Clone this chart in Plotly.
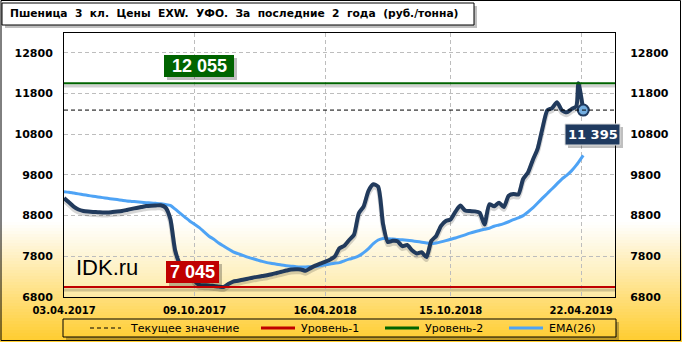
import pandas as pd
import plotly.graph_objects as go

# ---------------- data ----------------
weekly_dates = list(pd.date_range("2017-04-03", periods=107, freq="7D").strftime("%Y-%m-%d"))
extra_dates = ["2019-04-18", "2019-04-25"]
dates = weekly_dates + extra_dates

price = [9230, 9130, 9020, 8950, 8915, 8900, 8890, 8885, 8878, 8876,
         8888, 8900, 8915, 8940, 8966, 8990, 9012, 9035, 9045, 9050,
         9055, 9000, 8720, 7940, 7625, 7560, 7420, 7200, 7100, 7090,
         7085, 7070, 7055, 7045, 7120, 7180, 7200, 7225, 7250, 7275,
         7295, 7315, 7335, 7360, 7390, 7420, 7450, 7475, 7480, 7478,
         7445, 7510, 7570, 7620, 7665, 7715, 7790, 8000, 8060, 8200,
         8330, 8860, 9030, 9410, 9570, 9510, 8600, 8150, 8180, 8170,
         8050, 8080, 7950, 7870, 7900, 7780, 8180, 8300, 8550, 8670,
         8710, 8900, 9050, 8925, 8912, 8905, 8870, 8580, 9080, 9030,
         9120, 9013, 9290, 9330, 9320, 9700, 9860, 10170, 10450, 10950,
         11390, 11445, 11590, 11390, 11340, 11420, 11490, 12055, 11395]

ema26 = [9390, 9375, 9355, 9335, 9315, 9295, 9277, 9260, 9243, 9226,
         9210, 9195, 9178, 9161, 9150, 9140, 9130, 9120, 9110, 9103,
         9095, 9075, 9050, 8960, 8860, 8765, 8670, 8590, 8505, 8400,
         8295, 8220, 8125, 8053, 7982, 7910, 7865, 7825, 7780, 7745,
         7710, 7675, 7645, 7625, 7605, 7585, 7570, 7558, 7545, 7538,
         7540, 7545, 7552, 7570, 7590, 7610, 7630, 7645, 7690, 7730,
         7760, 7810, 7890, 7990, 8110, 8200, 8240, 8235, 8228, 8215,
         8205, 8194, 8180, 8165, 8148, 8128, 8115, 8130, 8155, 8185,
         8218, 8250, 8290, 8328, 8370, 8405, 8435, 8465, 8490, 8540,
         8570, 8605, 8650, 8700, 8745, 8800, 8890, 8990, 9110, 9230,
         9345, 9460, 9580, 9700, 9790, 9900, 10040, 10110, 10280]

level1 = 7045
level2 = 12055
current = 11395

x_tick_dates = ["2017-04-03", "2017-10-09", "2018-04-16", "2018-10-15", "2019-04-22"]
x_tick_text = ["03.04.2017", "09.10.2017", "16.04.2018", "15.10.2018", "22.04.2019"]
y_ticks = [6800, 7800, 8800, 9800, 10800, 11800, 12800]

title_words = ["Пшеница", "3", "кл.", "Цены", "EXW.", "УФО.", "За", "последние", "2", "года", "(руб./тонна)"]
legend_names = ["Текущее значение", "Уровень-1", "Уровень-2", "EMA(26)"]

# ---------------- geometry helpers (pixels -> paper) ----------------
W, H = 682, 342
PL, PR, PT, PB = 64, 615, 33, 297


def fx(px):
    return (px - PL) / (PR - PL)


def fy(py):
    return (PB - py) / (PB - PT)


def mix(c1, c2, t):
    t = max(0.0, min(1.0, t))
    return "rgb(%d,%d,%d)" % tuple(round(a + (b - a) * t) for a, b in zip(c1, c2))


def rect(x0, x1, y0, y1, fill, line=None, layer="above"):
    d = dict(type="rect", xref="paper", yref="paper", layer=layer,
             x0=fx(x0), x1=fx(x1), y0=fy(y1), y1=fy(y0), fillcolor=fill)
    if line is None:
        d["line_width"] = 0
    else:
        d["line"] = line
    return d


def shadow(x0, x1, y0, y1, off=3, col="rgba(0,0,0,0.25)"):
    # L-shaped drop shadow (right and bottom strips)
    return [rect(x1, x1 + off, y0 + off, y1 + off, col),
            rect(x0 + off, x1, y1, y1 + off, col)]


NAVY = "#213a5c"
BLUE = "#4ea3f5"
RED = "#c00000"
GREEN = "#006400"

shapes = []
# outer background gradient
g0, g1 = 222, 342
step = 3
py = g0
while py < g1:
    t = (py + step / 2 - g0) / (g1 - g0)
    shapes.append(rect(0, W, py, py + step, mix((255, 255, 255), (255, 204, 45), t), layer="below"))
    py += step
# plot-area gradient
py = g0
while py < PB:
    t = (py + step / 2 - g0) / (PB - g0)
    shapes.append(rect(PL, PR, py, min(PB, py + step),
                       mix((255, 255, 255), (253, 234, 165), t), layer="below"))
    py += step

# outer frame
shapes.append(rect(1, 680.5, 0.5, 340.5, "rgba(0,0,0,0)",
                   line=dict(color="black", width=1), layer="below"))

# title box with shadow
shapes += shadow(2, 474, 3, 25)
shapes.append(rect(2, 474, 3, 25, "white", line=dict(color="black", width=1)))

# level lines (with soft shadows)
for lv, col in ((level1, RED), (level2, GREEN)):
    shapes.append(dict(type="line", xref="x domain", yref="y", x0=0, x1=1,
                       y0=lv - 70, y1=lv - 70, layer="below",
                       line=dict(color="rgba(0,0,0,0.18)", width=3)))
    shapes.append(dict(type="line", xref="x domain", yref="y", x0=0, x1=1,
                       y0=lv, y1=lv, line=dict(color=col, width=2)))
shapes.append(dict(type="line", xref="x domain", yref="y", x0=0, x1=1,
                   y0=current, y1=current, line=dict(color="black", width=1, dash="4px,3px")))

# value label boxes
label_boxes = [
    (164, 234, 55, 77, GREEN, "white", 0),
    (166, 219, 261, 283, RED, "white", 0),
    (565, 620, 124, 145, "#1f3a5f", "#dddddd", 1),
]
for x0, x1, y0, y1, col, bcol, bw in label_boxes:
    shapes += shadow(x0, x1, y0, y1)
    shapes.append(rect(x0, x1, y0, y1, col, line=dict(color=bcol, width=bw)))

# legend box (manual)
shapes += shadow(63, 616, 319, 337)
shapes.append(rect(63, 616, 319, 337, "rgba(0,0,0,0)", line=dict(color="black", width=1)))
legend_items = [
    (90, 121, 128, dict(color="black", width=1, dash="4px,3px")),
    (261, 295, 299, dict(color=RED, width=3)),
    (385, 419, 423, dict(color=GREEN, width=3)),
    (509, 543, 547, dict(color=BLUE, width=3)),
]
annotations = []
for (lx0, lx1, tx, ln), name in zip(legend_items, legend_names):
    shapes.append(dict(type="line", xref="paper", yref="paper", layer="above",
                       x0=fx(lx0), x1=fx(lx1), y0=fy(328), y1=fy(328), line=ln))
    annotations.append(dict(xref="paper", yref="paper", x=fx(tx), y=fy(328),
                            xanchor="left", yanchor="middle", showarrow=False,
                            text=name, font=dict(family="DejaVu Sans", size=11, color="black")))

annotations += [
    dict(xref="paper", yref="paper", x=fx(8), y=fy(14), xanchor="left", yanchor="middle",
         showarrow=False, text="<b>" + "\u00a0 ".join(title_words) + "</b>",
         font=dict(family="DejaVu Sans", size=10.7, color="black")),
    dict(xref="paper", yref="paper", x=fx(199), y=fy(66), xanchor="center", yanchor="middle",
         showarrow=False, text="<b>12 055</b>",
         font=dict(family="Liberation Sans", size=18, color="white")),
    dict(xref="paper", yref="paper", x=fx(192.5), y=fy(272), xanchor="center", yanchor="middle",
         showarrow=False, text="<b>7 045</b>",
         font=dict(family="Liberation Sans", size=18, color="white")),
    dict(xref="paper", yref="paper", x=fx(592.5), y=fy(134.5), xanchor="center", yanchor="middle",
         showarrow=False, text="<b>11 395</b>",
         font=dict(family="DejaVu Sans", size=13, color="white")),
    dict(xref="paper", yref="paper", x=fx(74), y=fy(267), xanchor="left", yanchor="middle",
         showarrow=False, text="IDK.ru",
         font=dict(family="Liberation Sans", size=22, color="black")),
]

fig = go.Figure()
# shadow of the price line
fig.add_trace(go.Scatter(x=dates, y=[v - 60 for v in price], mode="lines",
                         line=dict(color="rgba(0,0,0,0.16)", width=5, shape="spline", smoothing=0.6),
                         hoverinfo="skip", showlegend=False))
fig.add_trace(go.Scatter(x=dates, y=ema26, mode="lines", name="EMA(26)",
                         line=dict(color=BLUE, width=3, shape="spline", smoothing=0.6),
                         showlegend=False))
fig.add_trace(go.Scatter(x=dates, y=price, mode="lines", name="Цена",
                         line=dict(color=NAVY, width=4, shape="spline", smoothing=0.6),
                         showlegend=False))
fig.add_trace(go.Scatter(x=[dates[-1]], y=[price[-1]], mode="markers",
                         marker=dict(size=11, color="#74aee0", line=dict(color="#1f3a5f", width=2)),
                         showlegend=False))
fig.add_trace(go.Scatter(x=[dates[-1]], y=[price[-1]], yaxis="y2", mode="markers",
                         marker=dict(opacity=0), hoverinfo="skip", showlegend=False))

tickfont_y = dict(family="DejaVu Sans", size=11, color="black", weight="bold")
fig.update_layout(
    width=W, height=H,
    margin=dict(l=PL, r=W - PR, t=PT, b=H - PB, pad=0),
    paper_bgcolor="white", plot_bgcolor="white",
    showlegend=False,
    shapes=shapes, annotations=annotations,
    xaxis=dict(type="date", range=["2017-04-03", "2019-06-10"],
               tickvals=x_tick_dates, ticktext=x_tick_text,
               tickfont=dict(family="DejaVu Sans", size=10, color="black", weight="bold"),
               showgrid=True, gridcolor="#bdbdbd", griddash="4px,3px", gridwidth=1,
               showline=True, mirror=True, linecolor="black", linewidth=1,
               ticks="outside", ticklen=4, tickcolor="rgba(0,0,0,0)", zeroline=False),
    yaxis=dict(range=[6800, 13290], tickvals=y_ticks, tickformat="d",
               tickfont=tickfont_y,
               showgrid=True, gridcolor="#bdbdbd", griddash="4px,3px", gridwidth=1,
               showline=True, mirror=True, linecolor="black", linewidth=1,
               ticks="outside", ticklen=8, tickcolor="rgba(0,0,0,0)", zeroline=False),
    yaxis2=dict(range=[6800, 13290], tickvals=y_ticks, tickformat="d",
                tickfont=tickfont_y, overlaying="y", side="right",
                showgrid=False, zeroline=False, showline=False,
                ticks="outside", ticklen=12, tickcolor="rgba(0,0,0,0)"),
)

fig.write_html("out.html")
